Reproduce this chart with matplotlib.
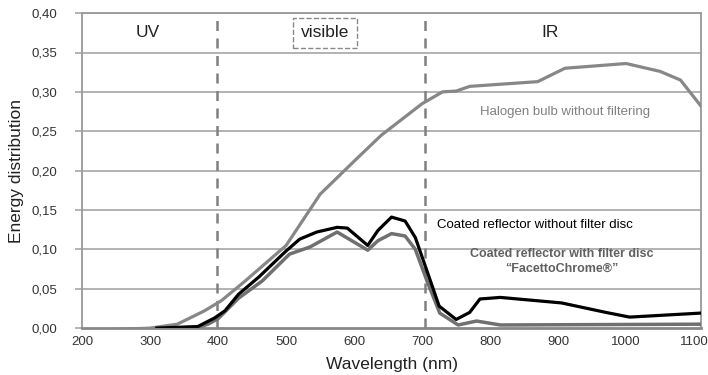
import matplotlib
matplotlib.use("Agg")
import matplotlib.pyplot as plt
from matplotlib.ticker import FuncFormatter

plt.rcParams['font.family'] = ['Liberation Sans', 'DejaVu Sans']

# halogen bulb without filtering
halogen_nm = [240, 300, 340, 380, 405, 440, 480, 500, 550, 600, 640, 700, 730, 750,
              770, 870, 910, 1000, 1050, 1080, 1110]
halogen_val = [-0.002, 0.000, 0.005, 0.022, 0.035, 0.060, 0.090, 0.105, 0.170, 0.212,
               0.245, 0.285, 0.300, 0.301, 0.307, 0.313, 0.330, 0.336, 0.326, 0.315, 0.282]

# coated reflector without filter disc
nofilter_nm = [310, 370, 395, 410, 430, 460, 500, 520, 545, 575, 590, 620, 635, 655,
               675, 690, 705, 725, 750, 770, 785, 815, 905, 970, 1005, 1108]
nofilter_val = [0.000, 0.002, 0.013, 0.022, 0.043, 0.065, 0.098, 0.113, 0.122, 0.128,
                0.127, 0.105, 0.124, 0.141, 0.136, 0.115, 0.078, 0.028, 0.011, 0.020,
                0.037, 0.039, 0.032, 0.020, 0.014, 0.019]

# coated reflector with filter disc "FacettoChrome"
filter_nm = [310, 370, 385, 400, 430, 465, 505, 535, 575, 620, 635, 655, 675, 690,
             708, 726, 753, 780, 815, 1108]
filter_val = [0.000, 0.001, 0.005, 0.012, 0.038, 0.060, 0.094, 0.103, 0.122, 0.099,
              0.111, 0.120, 0.117, 0.100, 0.058, 0.019, 0.004, 0.009, 0.004, 0.005]

yticks = [0.00, 0.05, 0.10, 0.15, 0.20, 0.25, 0.30, 0.35, 0.40]
xticks = [200, 300, 400, 500, 600, 700, 800, 900, 1000, 1100]

fig = plt.figure(figsize=(7.08, 3.75), dpi=100)
ax = fig.add_axes([0.116, 0.125, 0.874, 0.840])

# grid
for y in yticks[1:]:
    ax.axhline(y, color="#a6a6a6", lw=1.2, zorder=1)

# region borders
ax.axvline(398, color="#808080", lw=1.8, ls=(0, (4, 3)), zorder=2)
ax.axvline(704, color="#808080", lw=1.8, ls=(0, (4, 3)), zorder=2)

ax.plot(halogen_nm, halogen_val, color="#878787", lw=2.3, zorder=3)
ax.plot(filter_nm, filter_val, color="#707070", lw=2.5, zorder=4)
ax.plot(nofilter_nm, nofilter_val, color="black", lw=2.3, zorder=5)

ax.set_xlim(200, 1110)
ax.set_ylim(0, 0.40)
ax.set_xticks(xticks)
ax.set_yticks(yticks)
ax.yaxis.set_major_formatter(FuncFormatter(lambda v, p: f"{v:.2f}".replace(".", ",")))
ax.tick_params(axis="x", length=0, labelsize=9.5, colors="#333333", pad=6)
ax.tick_params(axis="y", length=5, width=1.2, color="#a6a6a6", labelsize=9.5,
               labelcolor="#333333", pad=13)

for s in ["top", "right", "left"]:
    ax.spines[s].set_color("#999999")
    ax.spines[s].set_linewidth(1.3)
ax.spines["bottom"].set_color("#888888")
ax.spines["bottom"].set_linewidth(2)

ax.set_xlabel("Wavelength (nm)", fontsize=12.5, color="#222222", labelpad=6)
ax.set_ylabel("Energy distribution", fontsize=12.5, color="#222222", labelpad=5)

# region labels
ax.text(297, 0.375, "UV", fontsize=12.5, ha="center", va="center", color="#222222")
ax.text(557, 0.375, "visible", fontsize=12.5, ha="center", va="center", color="#222222",
        bbox=dict(boxstyle="square,pad=0.45", fc="white", ec="#888888", ls="--", lw=1))
ax.text(888, 0.375, "IR", fontsize=12.5, ha="center", va="center", color="#222222")

ax.text(910, 0.275, "Halogen bulb without filtering", fontsize=9.5, ha="center",
        va="center", color="#808080")
ax.text(722, 0.1315, "Coated reflector without filter disc", fontsize=9.5, ha="left",
        va="center", color="black")
ax.text(905, 0.085, "Coated reflector with filter disc\n\u201cFacettoChrome\u00ae\u201d",
        fontsize=9, ha="center", va="center", color="#606060", fontweight="bold",
        linespacing=1.25)

fig.savefig("out.png", dpi=100)
